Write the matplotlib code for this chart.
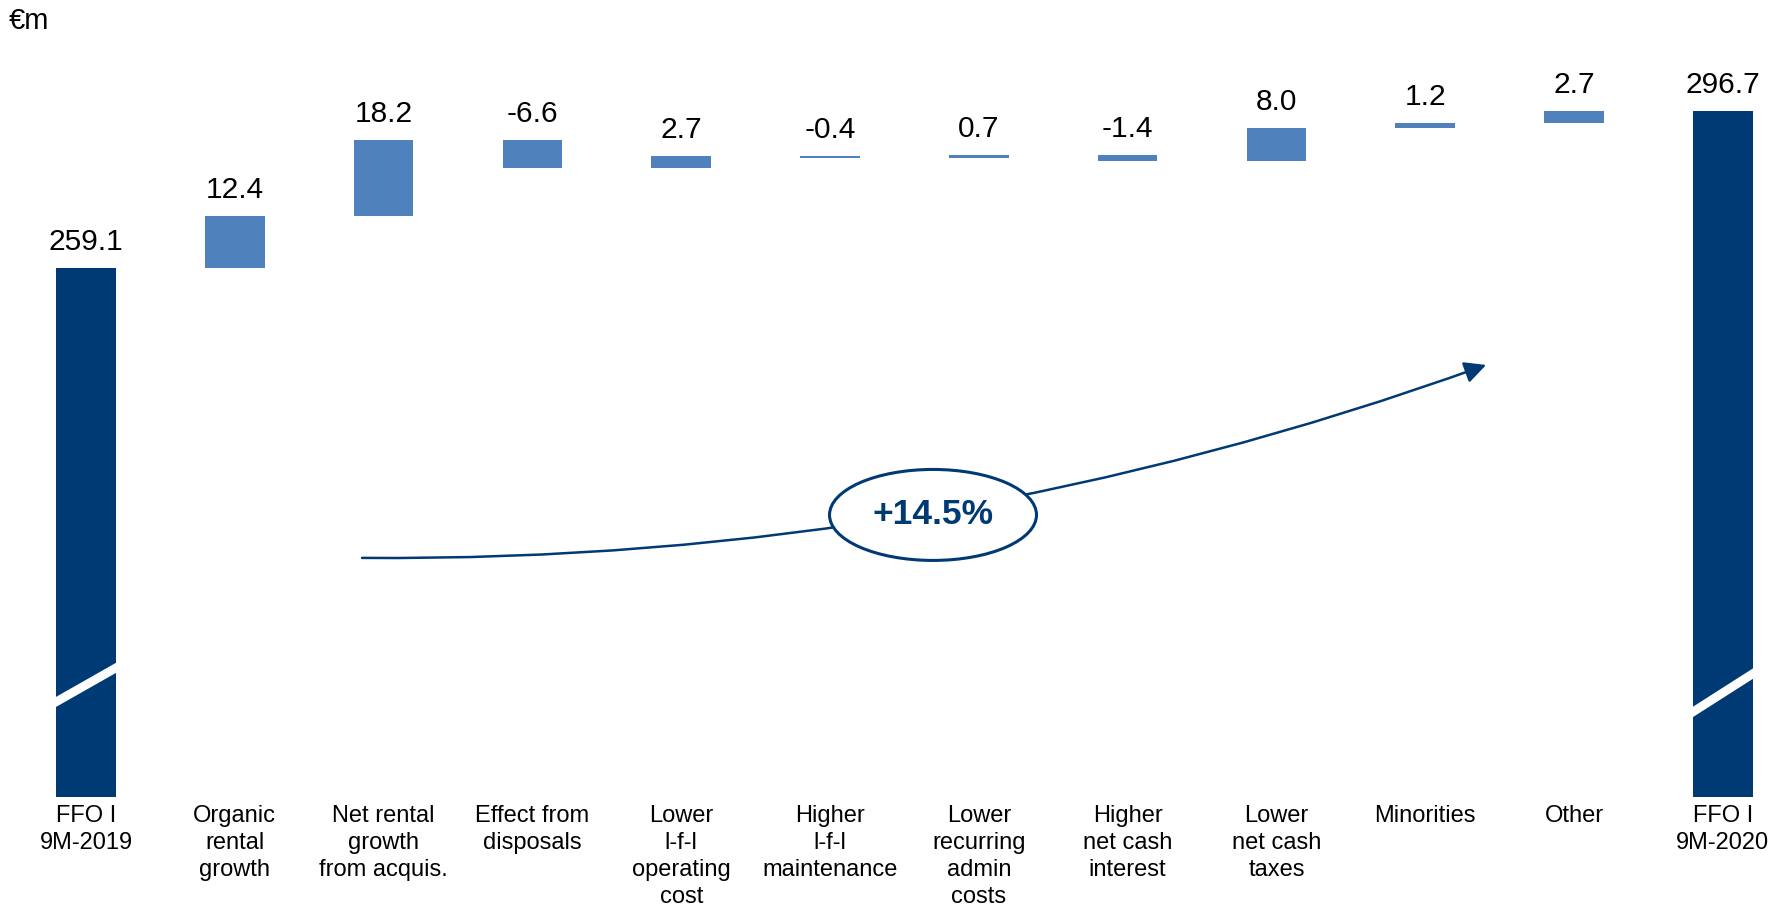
import matplotlib
matplotlib.use("Agg")
import matplotlib.pyplot as plt
from matplotlib.patches import Ellipse, FancyArrowPatch
from matplotlib.path import Path

plt.rcParams['font.family'] = ['Liberation Sans', 'DejaVu Sans']

# ---- data ----
categories = ["FFO I\n9M-2019", "Organic\nrental\ngrowth", "Net rental\ngrowth\nfrom acquis.",
              "Effect from\ndisposals", "Lower\nl-f-l\noperating\ncost", "Higher\nl-f-l\nmaintenance",
              "Lower\nrecurring\nadmin\ncosts", "Higher\nnet cash\ninterest", "Lower\nnet cash\ntaxes",
              "Minorities", "Other", "FFO I\n9M-2020"]
start_value = 259.1
end_value = 296.7
changes = [12.4, 18.2, -6.6, 2.7, -0.4, 0.7, -1.4, 8.0, 1.2, 2.7]
growth_label = "+14.5%"
unit_label = "€m"

DARK = '#003A75'
LIGHT = '#4F81BD'

W, H = 1787, 910
fig = plt.figure(figsize=(W / 100, H / 100), dpi=100)

# axes placement (pixel layout of the reference)
ax_bottom_px, ax_top_px = 797, 60
ax = fig.add_axes([0, (H - ax_bottom_px) / H, 1, (ax_bottom_px - ax_top_px) / H])
ymin, ymax = 132.4, 308.9
ax.set_ylim(ymin, ymax)
ax.set_xlim(-0.578, 11.431)
ax.axis('off')

bw = 0.40
label_fs = 21.5
n = len(categories)
gap = 2.9

# first bar
ax.bar(0, start_value - ymin, bottom=ymin, width=bw, color=DARK, zorder=2)
ax.text(0, start_value + gap, f"{start_value:.1f}", ha='center', va='bottom', fontsize=label_fs)

cum = start_value
for i, c in enumerate(changes, start=1):
    lo, hi = min(cum, cum + c), max(cum, cum + c)
    ax.bar(i, hi - lo, bottom=lo, width=bw, color=LIGHT, zorder=2)
    ax.text(i, hi + gap, f"{c:.1f}", ha='center', va='bottom', fontsize=label_fs)
    cum += c

# last bar
ax.bar(n - 1, end_value - ymin, bottom=ymin, width=bw, color=DARK, zorder=2)
ax.text(n - 1, end_value + gap, f"{end_value:.1f}", ha='center', va='bottom', fontsize=label_fs)

# axis-break marks
for xi, (y0, y1) in [(0, (155.2, 163.3)), (n - 1, (152.8, 161.9))]:
    ax.plot([xi - bw / 2 - 0.02, xi + bw / 2 + 0.02],
            [y0 - 0.02 / bw * (y1 - y0), y1 + 0.02 / bw * (y1 - y0)],
            color='white', lw=6.3, solid_capstyle='butt', zorder=3)

# category labels
for i, cat in enumerate(categories):
    ax.text(i, ymin - 1.8, cat, ha='center', va='top', fontsize=17, linespacing=1.31)

# growth arrow
p0 = (1.855, 189.66)
p1 = (5.726, 188.46)
p2 = (9.409, 235.87)
path = Path([p0, p1, p2], [Path.MOVETO, Path.CURVE3, Path.CURVE3])
arrow = FancyArrowPatch(path=path, arrowstyle='-|>,head_length=13,head_width=6.5',
                        color=DARK, lw=1.8, zorder=4, mutation_scale=1)
ax.add_patch(arrow)
ell = Ellipse((5.692, 199.95), 1.391, 21.79, facecolor='white', edgecolor=DARK, lw=2.2, zorder=5)
ax.add_patch(ell)
ax.text(5.692, 199.95, growth_label, ha='center', va='center', fontsize=25.5,
        fontweight='bold', color=DARK, zorder=6)

fig.text(9 / W, 1 - 7 / H, unit_label, ha='left', va='top', fontsize=21)

fig.savefig('out.png', dpi=100)
